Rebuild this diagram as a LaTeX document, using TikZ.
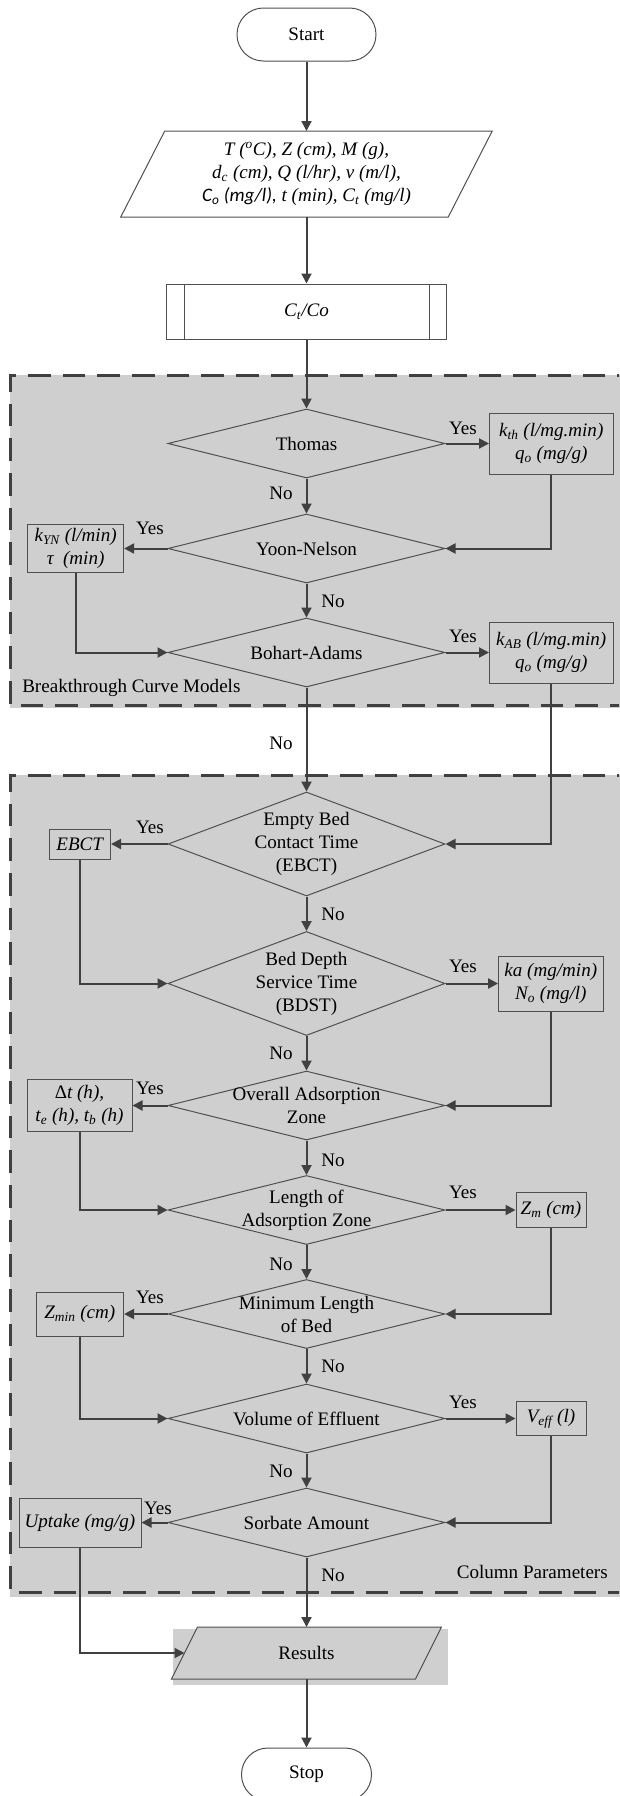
\documentclass[tikz,border=0pt]{standalone}
\usepackage{fontspec}
\setmainfont{Liberation Serif}
\newfontfamily\calib{Carlito}
\usetikzlibrary{shapes.geometric, arrows.meta, calc, backgrounds}
\definecolor{gfill}{HTML}{CFCFCF}
\definecolor{lc}{HTML}{404040}
\definecolor{oc}{HTML}{505050}
\begin{document}
\begin{tikzpicture}[x=0.75pt, y=-0.75pt,
  font=\fontsize{14.3}{17.25}\selectfont,
  sz/.style 2 args={minimum width=#1*0.75pt, minimum height=#2*0.75pt},
  shp/.style={draw=oc, line width=0.75pt},
  dia/.style={diamond, shp, fill=gfill, inner sep=0pt, aspect=4, sz={277}{69}},
  dt/.style={align=center, inner sep=0pt},
  bx/.style={rectangle, shp, fill=gfill, inner sep=1pt, align=center, font=\fontsize{14.3}{17.25}\selectfont\itshape},
  arr/.style={draw=lc, line width=1.5pt, -{Triangle[length=7.5pt,width=7.5pt]}},
  yn/.style={inner sep=0pt},
  reg/.style={draw=lc, line width=2.25pt, dash pattern=on 17pt off 9pt},
  term/.style={rectangle, rounded corners=19.8pt, shp, fill=white}
]
\useasboundingbox (0,0) rectangle (619,1796);
\clip (0,0) rectangle (619,1796);

% region borders
\draw[reg] (640,375) -- (10,375) -- (10,705) -- (640,705);
\draw[reg] (640,775) -- (10,775) -- (10,1592) -- (640,1592);

% terminals, input, process
\node[term, sz={139}{53}] (start) at (306.5,34.5) {Start};
\node[sz={371.5}{86}, inner sep=0pt, outer sep=0pt, align=center, font=\fontsize{14.3}{17.25}\selectfont\itshape] (inp) at (306.5,174)
  {T (\textsuperscript{o}C), Z (cm), M (g),\\
   d\textsubscript{c} (cm), Q (l/hr), v (m/l),\\
   {\calib C\textsubscript{o} (mg/l),} t (min), C\textsubscript{t} (mg/l)};
\node[rectangle, shp, fill=white, sz={280}{55}] (pp) at (306.5,311.5) {\textit{C\textsubscript{t}/Co}};
\draw[shp] ($(pp.north west)+(18,0)$) -- ($(pp.south west)+(18,0)$);
\draw[shp] ($(pp.north east)+(-18,0)$) -- ($(pp.south east)+(-18,0)$);

% decisions
\node[dia] (d1) at (306.5,443.5) {};
\node[dia] (d2) at (306.5,548.5) {};
\node[dia] (d3) at (306.5,652.5) {};
\node[dia, sz={277}{104}] (d4) at (306.5,844) {};
\node[dia, sz={277}{104}] (d5) at (306.5,983.5) {};
\node[dia] (d6) at (306.5,1105.5) {};
\node[dia] (d7) at (306.5,1210) {};
\node[dia] (d8) at (306.5,1314) {};
\node[dia] (d9) at (306.5,1418.5) {};
\node[dia] (d10) at (306.5,1522.5) {};
\node[dt] (t1) at (d1) {Thomas};
\node[dt] (t2) at (d2) {Yoon-Nelson};
\node[dt] (t3) at (d3) {Bohart-Adams};
\node[dt] (t4) at (d4) {Empty Bed\\Contact Time\\(EBCT)};
\node[dt] (t5) at (d5) {Bed Depth\\Service Time\\(BDST)};
\node[dt] (t6) at (d6) {Overall Adsorption\\Zone};
\node[dt] (t7) at (d7) {Length of\\Adsorption Zone};
\node[dt] (t8) at (d8) {Minimum Length\\of Bed};
\node[dt] (t9) at (d9) {Volume of Effluent};
\node[dt] (t10) at (d10) {Sorbate Amount};

% result boxes
\node[bx, sz={123.5}{61}] (b1) at (551.25,443.5) {k\textsubscript{th} (l/mg.min)\\q\textsubscript{o} (mg/g)};
\node[bx, sz={96}{48}] (b2) at (75.6,548.5) {k\textsubscript{YN} (l/min)\\τ\ \ (min)};
\node[bx, sz={123.5}{61}] (b3) at (551.25,652.5) {k\textsubscript{AB} (l/mg.min)\\q\textsubscript{o} (mg/g)};
\node[bx, sz={61.5}{30}] (b4) at (79.75,844) {EBCT};
\node[bx, sz={104.4}{55}] (b5) at (550.8,983.5) {ka (mg/min)\\N\textsubscript{o} (mg/l)};
\node[bx, sz={105}{52}] (b6) at (79.5,1105.5) {{\upshape Δ}t (h),\\t\textsubscript{e} (h), t\textsubscript{b} (h)};
\node[bx, sz={70}{35}] (b7) at (551,1210) {Z\textsubscript{m} (cm)};
\node[bx, sz={87.6}{44}] (b8) at (79.8,1314) {Z\textsubscript{min} (cm)};
\node[bx, sz={70}{34}] (b9) at (551,1418.5) {V\textsubscript{eff} (l)};
\node[bx, sz={122}{49}] (b10) at (80,1522.5) {Uptake (mg/g)};

% results and stop
\node[sz={270}{52}, inner sep=0pt, outer sep=0pt] (res) at (306.5,1653) {Results};
\coordinate (resL) at ($(res.west)+(13,0)$);
\node[term, sz={130}{53}] (stop) at (306.5,1774.5) {Stop};

% region titles
\node[anchor=west, inner sep=0pt] (rl1) at (22,688) {Breakthrough Curve Models};
\node[anchor=east, inner sep=0pt] (rl2) at (608,1572) {Column Parameters};

% background fills
\begin{pgfonlayer}{background}
\fill[gfill] (10,375) rectangle (640,708);
\fill[gfill] (10,775) rectangle (640,1597);
\fill[gfill] ($(res.north west)+(1.5,2)$) rectangle ($(res.south east)+(6.5,6)$);
\draw[shp, fill=gfill] ($(res.north west)+(26,0)$) -- (res.north east) -- ($(res.south east)+(-26,0)$) -- (res.south west) -- cycle;
\draw[shp, fill=white] ($(inp.north west)+(44,0)$) -- (inp.north east) -- ($(inp.south east)+(-44,0)$) -- (inp.south west) -- cycle;
\end{pgfonlayer}

% main flow
\draw[arr] (start.south) -- (inp.north);
\draw[arr] (inp.south) -- (pp.north);
\draw[arr] (pp.south) -- (d1.north);
\draw[arr] (d1.south) -- (d2.north);
\draw[arr] (d2.south) -- (d3.north);
\draw[arr] (d3.south) -- (d4.north);
\draw[arr] (d4.south) -- (d5.north);
\draw[arr] (d5.south) -- (d6.north);
\draw[arr] (d6.south) -- (d7.north);
\draw[arr] (d7.south) -- (d8.north);
\draw[arr] (d8.south) -- (d9.north);
\draw[arr] (d9.south) -- (d10.north);
\draw[arr] (d10.south) -- (res.north);
\draw[arr] (res.south) -- (stop.north);

% yes branches
\draw[arr] (d1.east) -- (b1.west);
\draw[arr] (b1.south) |- (d2.east);
\draw[arr] (d2.west) -- (b2.east);
\draw[arr] (b2.south) |- (d3.west);
\draw[arr] (d3.east) -- (b3.west);
\draw[arr] (b3.south) |- (d4.east);
\draw[arr] (d4.west) -- (b4.east);
\draw[arr] (b4.south) |- (d5.west);
\draw[arr] (d5.east) -- (b5.west);
\draw[arr] (b5.south) |- (d6.east);
\draw[arr] (d6.west) -- (b6.east);
\draw[arr] (b6.south) |- (d7.west);
\draw[arr] (d7.east) -- (b7.west);
\draw[arr] (b7.south) |- (d8.east);
\draw[arr] (d8.west) -- (b8.east);
\draw[arr] (b8.south) |- (d9.west);
\draw[arr] (d9.east) -- (b9.west);
\draw[arr] (b9.south) |- (d10.east);
\draw[arr] (d10.west) -- (b10.east);
\draw[arr] (b10.south) |- (resL);

% labels
\node[yn] (y1) at (463,428) {Yes};
\node[yn] (y2) at (150,528) {Yes};
\node[yn] (y3) at (463,636) {Yes};
\node[yn] (y4) at (150,827) {Yes};
\node[yn] (y5) at (463,966) {Yes};
\node[yn] (y6) at (150,1088) {Yes};
\node[yn] (y7) at (463,1192) {Yes};
\node[yn] (y8) at (150,1297) {Yes};
\node[yn] (y9) at (463,1402) {Yes};
\node[yn] (y10) at (158,1508) {Yes};
\node[yn] (n1) at (281,493) {No};
\node[yn] (n2) at (333,601) {No};
\node[yn] (n3) at (281,743) {No};
\node[yn] (n4) at (333,914) {No};
\node[yn] (n5) at (281,1053) {No};
\node[yn] (n6) at (333,1160) {No};
\node[yn] (n7) at (281,1264) {No};
\node[yn] (n8) at (333,1366) {No};
\node[yn] (n9) at (281,1471) {No};
\node[yn] (n10) at (333,1575) {No};
\end{tikzpicture}
\end{document}
